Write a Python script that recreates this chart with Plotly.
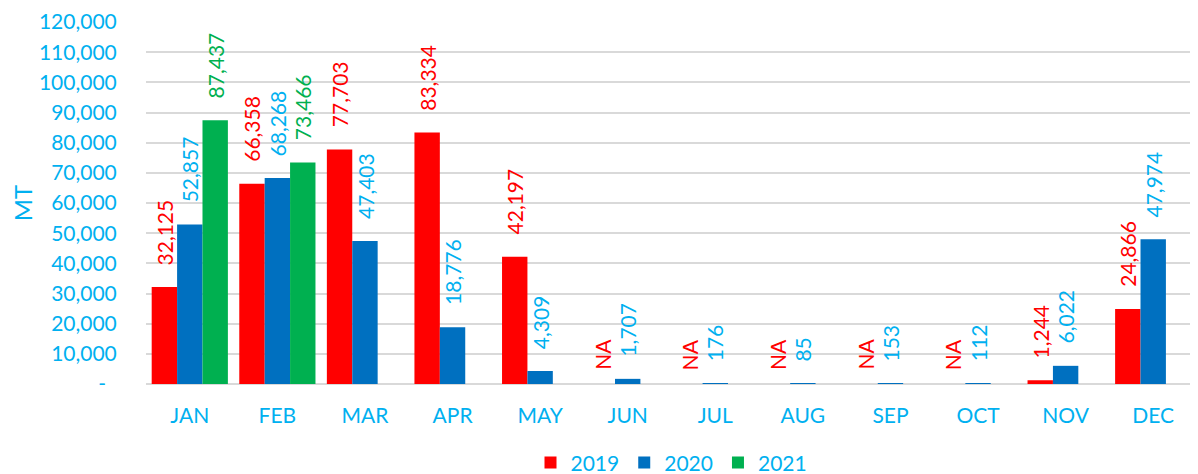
import plotly.graph_objects as go

months = ["JAN", "FEB", "MAR", "APR", "MAY", "JUN", "JUL", "AUG", "SEP", "OCT", "NOV", "DEC"]
v2019 = [32125, 66358, 77703, 83334, 42197, None, None, None, None, None, 1244, 24866]
v2020 = [52857, 68268, 47403, 18776, 4309, 1707, 176, 85, 153, 112, 6022, 47974]
v2021 = [87437, 73466, None, None, None, None, None, None, None, None, None, None]
series_names = ["2019", "2020", "2021"]
y_ticks = list(range(0, 120001, 10000))

bar_colors = ["#FF0000", "#0070C0", "#00B050"]
label_colors = ["#FF0000", "#00B0F0", "#00B050"]
TXT = "#00B0F0"
FONT = "Lato"
BARGAP = 0.13

fig = go.Figure()
all_series = [v2019, v2020, v2021]
for name, vals, col in zip(series_names, all_series, bar_colors):
    fig.add_trace(go.Bar(x=months, y=vals, name=name, marker_color=col,
                         marker_line_width=0))

w = (1 - BARGAP) / 3
annotations = []
for s, vals in enumerate(all_series):
    off = (s - 1) * w
    for i, v in enumerate(vals):
        if v is None:
            if s == 0:
                annotations.append(dict(x=i + off, y=0, xref="x", yref="y", text="NA",
                                        textangle=-90, showarrow=False, xanchor="center",
                                        yanchor="bottom", yshift=12,
                                        font=dict(color=label_colors[s], size=21, family=FONT)))
            continue
        annotations.append(dict(x=i + off, y=v, xref="x", yref="y", text=f"{v:,}",
                                textangle=-90, showarrow=False, xanchor="center",
                                yanchor="bottom", yshift=20,
                                font=dict(color=label_colors[s], size=21, family=FONT)))

fig.update_layout(
    width=1190, height=466,
    margin=dict(l=138, r=1, t=14, b=90),
    barmode="group", bargap=BARGAP, bargroupgap=0,
    plot_bgcolor="white", paper_bgcolor="white",
    font=dict(family=FONT, size=20, color=TXT),
    annotations=annotations,
    legend=dict(orientation="h", x=0.5, xanchor="center", xref="paper",
                y=0.024, yanchor="middle", yref="container", itemwidth=30,
                font=dict(size=21, color=TXT, family=FONT), traceorder="normal"),
    showlegend=True,
)
fig.update_xaxes(type="category", showgrid=False, showline=False, zeroline=False,
                 automargin=False,
                 ticks="outside", ticklen=13, tickcolor="rgba(0,0,0,0)",
                 tickfont=dict(size=21, color=TXT, family=FONT))
fig.update_yaxes(range=[0, 120000], tickvals=y_ticks, automargin=False,
                 ticktext=["-\u00a0\u00a0"] + [f"{t:,}" for t in y_ticks[1:]],
                 showgrid=True, gridcolor="#D9D9D9", gridwidth=1.5,
                 zeroline=True, zerolinecolor="#D9D9D9", zerolinewidth=2,
                 showline=False, ticks="outside", ticklen=24, tickcolor="rgba(0,0,0,0)",
                 tickfont=dict(size=21, color=TXT, family=FONT),
                 title=dict(text="MT", font=dict(size=24, color=TXT, family=FONT), standoff=11))

fig.write_html("out.html")
